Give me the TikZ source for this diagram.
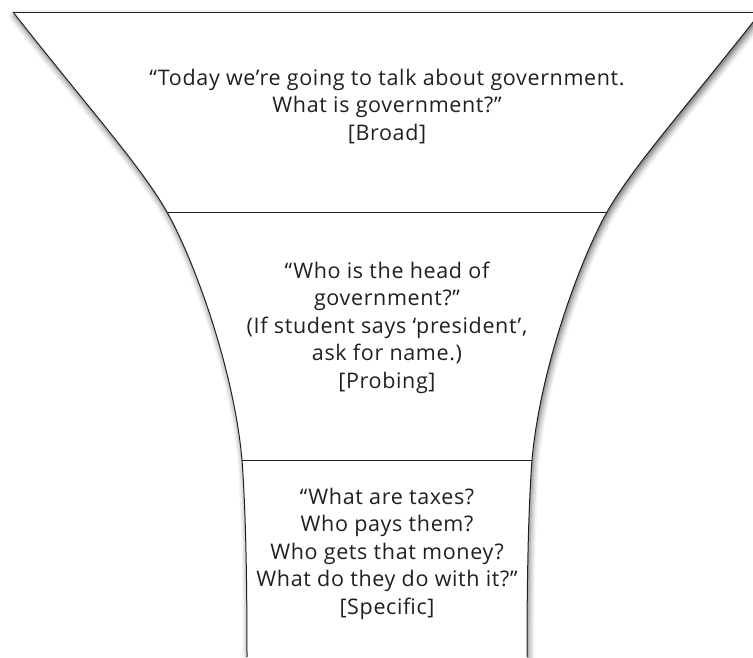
\documentclass[tikz,border=0pt]{standalone}
\usepackage{fontspec}
\setmainfont[LetterSpace=3]{Open Sans}
\usetikzlibrary{shadows.blur}
\definecolor{ink}{HTML}{231F20}
\begin{document}
\begin{tikzpicture}[x=1pt,y=-1pt,
  edge/.style={draw=ink, line width=1pt},
  funneltext/.style={align=center, text=ink, inner sep=0pt,
    font=\fontsize{21.5}{27.5}\selectfont}]
\useasboundingbox (0,0) rectangle (753,657);
% corner points of the funnel outline
\coordinate (tl) at (13,12);
\coordinate (tr) at (761,12);
\coordinate (ml) at (167,212);
\coordinate (mr) at (607,212);
\coordinate (ll) at (242,460);
\coordinate (lr) at (532,460);
\coordinate (bl) at (247,657);
\coordinate (br) at (527,657);
\begin{scope}
  \clip (0,0) rectangle (753,657);
  % white funnel body casting a soft shadow
  \fill[white, blur shadow={shadow xshift=1.5pt, shadow yshift=-4pt,
        shadow blur radius=6pt, shadow opacity=60}]
    (tl) -- (tr)
    .. controls (684,110) and (634,165) .. (mr)
    .. controls (579,262) and (540,370) .. (lr)
    .. controls (529,500) and (527,560) .. (br)
    -- (527,700) -- (247,700) -- (bl)
    .. controls (247,560) and (245,500) .. (ll)
    .. controls (234,370) and (195,262) .. (ml)
    .. controls (140,165) and (90,110) .. (tl) -- cycle;
  % outline
  \draw[edge] (tl) -- (tr);
  \draw[edge] (tl) .. controls (90,110) and (140,165) .. (ml)
    .. controls (195,262) and (234,370) .. (ll)
    .. controls (245,500) and (247,560) .. (bl);
  \draw[edge] (tr) .. controls (684,110) and (634,165) .. (mr)
    .. controls (579,262) and (540,370) .. (lr)
    .. controls (529,500) and (527,560) .. (br);
  % section dividers
  \draw[edge] (ml) -- (mr);
  \draw[edge] (ll) -- (lr);
\end{scope}
% questions in each section
\node[funneltext] (broad) at (387,106.5)
  {“Today we’re going to talk about government.\\What is government?”\\{[Broad]}};
\node[funneltext] (probing) at (387,327.5)
  {“Who is the head of\\government?”\\(If student says ‘president’,\\ask for name.)\\{[Probing]}};
\node[funneltext] (specific) at (387,553.5)
  {“What are taxes?\\Who pays them?\\Who gets that money?\\What do they do with it?”\\{[Specific]}};
\end{tikzpicture}
\end{document}
